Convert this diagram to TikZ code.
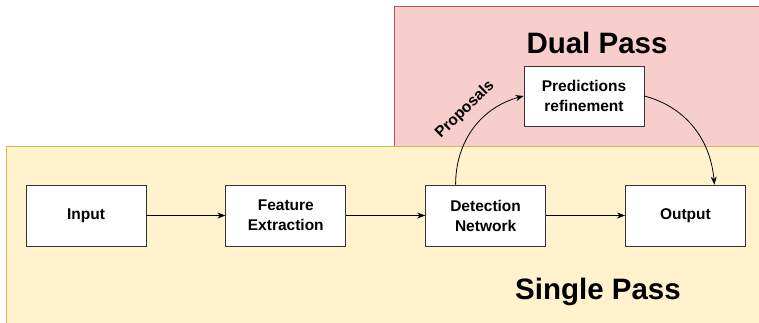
\documentclass[tikz,border=0pt]{standalone}
\usepackage{fontspec}
\setmainfont{Liberation Sans}
\usetikzlibrary{arrows.meta,positioning,calc}
\definecolor{ink}{RGB}{0,0,0}
\definecolor{dualfill}{RGB}{248,206,204}
\definecolor{dualline}{RGB}{184,84,80}
\definecolor{singlefill}{RGB}{255,242,204}
\definecolor{singleline}{RGB}{214,182,86}
\tikzset{
  every picture/.style={color=ink, line width=0.8pt, x=1pt, y=-1pt},
  node distance=79pt,
  box/.style={draw=ink!80, fill=white, minimum width=120pt, minimum height=61pt, align=center,
    font=\fontsize{15.5}{20}\selectfont\bfseries, inner sep=2pt},
  title/.style={font=\fontsize{29.5}{33}\selectfont\bfseries},
  flow/.style={-{Stealth[length=8pt,width=6pt]}, line width=0.8pt},
  lbl/.style={font=\fontsize{15.5}{17}\selectfont\bfseries, inner sep=1pt},
}
\begin{document}
\begin{tikzpicture}
  \useasboundingbox (0,0) rectangle (759,323);
  \clip (0,0) rectangle (759,323);
  % passes
  \draw[fill=dualfill, draw=dualline] (394,6) rectangle (780,160);
  \draw[fill=singlefill, draw=singleline] (6,146) rectangle (780,340);
  \node[title] (dual) at (597,43) {Dual Pass};
  \node[title] (single) at (598,292) {Single Pass};
  % stages
  \node[box] (in) at (86,215.5) {Input};
  \node[box, right=of in] (feat) {Feature\\Extraction};
  \node[box, right=of feat] (det) {Detection\\Network};
  \node[box, right=of det] (out) {Output};
  \node[box, minimum height=60pt] (pred) at (584,96) {Predictions\\refinement};
  \draw[flow] (in) -- (feat); \draw[flow] (feat) -- (det); \draw[flow] (det) -- (out);
  \draw[flow] ([xshift=-30pt]det.north) to[out=90, in=195] (pred.west);
  \draw[flow] (pred.east) to[out=-15, in=95] ([xshift=29pt]out.north);
  \node[lbl, rotate=44] (prop) at (465,110) {Proposals};
\end{tikzpicture}
\end{document}
